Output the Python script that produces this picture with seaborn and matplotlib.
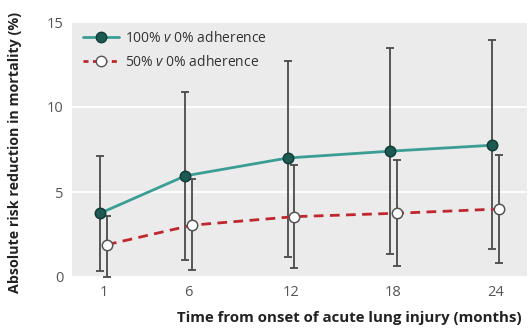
import numpy as np
import pandas as pd
import matplotlib
matplotlib.use("Agg")
import matplotlib.pyplot as plt
import seaborn as sns
from matplotlib.lines import Line2D

months = [1, 6, 12, 18, 24]

full_mean  = [3.75, 5.95, 7.0, 7.4, 7.75]
full_lower = [0.35, 1.0, 1.2, 1.35, 1.65]
full_upper = [7.1, 10.9, 12.7, 13.45, 13.95]

half_mean  = [1.9, 3.05, 3.55, 3.75, 4.0]
half_lower = [0.0, 0.4, 0.55, 0.65, 0.85]
half_upper = [3.6, 5.75, 6.6, 6.9, 7.2]

labels = [r"100% $\mathit{v}$ 0% adherence", r"50% $\mathit{v}$ 0% adherence"]

TEAL = "#3a9e95"
TEAL_DARK = "#1d5a53"
RED = "#c0262d"
BAR = "#4a4a4a"
TEXT = "#333333"
DODGE = 0.2

sns.set_style("white")
plt.rcParams["font.family"] = ["Open Sans", "DejaVu Sans"]
plt.rcParams["mathtext.fontset"] = "custom"
plt.rcParams["mathtext.it"] = "Open Sans:italic"
plt.rcParams["mathtext.rm"] = "Open Sans"

df = pd.DataFrame({
    "month": months * 2,
    "mean": full_mean + half_mean,
    "lower": full_lower + half_lower,
    "upper": full_upper + half_upper,
    "series": [labels[0]] * 5 + [labels[1]] * 5,
})
df["x"] = df["month"] + np.where(df["series"] == labels[0], -DODGE, DODGE)

fig = plt.figure(figsize=(5.28, 3.28), dpi=100)
ax = fig.add_axes([72 / 528, 1 - 277 / 328, 455 / 528, 255 / 328])
ax.set_facecolor("#ebebeb")

for lab in labels:
    d = df[df["series"] == lab]
    ax.errorbar(d["x"], d["mean"],
                yerr=[d["mean"] - d["lower"], d["upper"] - d["mean"]],
                fmt="none", ecolor=BAR, elinewidth=1.3, capsize=3,
                capthick=1.3, zorder=2, clip_on=False)

sns.lineplot(data=df, x="x", y="mean", hue="series", style="series",
             palette={labels[0]: TEAL, labels[1]: RED},
             dashes={labels[0]: "", labels[1]: (3.5, 2.3)},
             markers={labels[0]: "o", labels[1]: "o"},
             linewidth=2, markersize=7.5, legend=False, ax=ax, zorder=3)

# marker styling: dark teal filled vs open white
for line, lab in zip(ax.get_lines()[-2:], labels):
    if lab == labels[0]:
        line.set_markerfacecolor(TEAL_DARK)
        line.set_markeredgecolor("#123c37")
    else:
        line.set_markerfacecolor("white")
        line.set_markeredgecolor("#555555")
    line.set_markeredgewidth(1.1)
    line.set_clip_on(False)

ax.set_xlim(-0.85, 25.85)
ax.set_ylim(0, 15)
ax.set_xticks(months)
ax.set_yticks([0, 5, 10, 15])
ax.yaxis.grid(True, color="white", linewidth=1.3)
ax.xaxis.grid(False)
ax.set_axisbelow(True)
for s in ax.spines.values():
    s.set_visible(False)
ax.tick_params(axis="both", length=0, labelsize=10.5, labelcolor="#555555")
ax.tick_params(axis="y", pad=6)
ax.tick_params(axis="x", pad=6)
ax.set_xlabel("")
ax.set_ylabel("")

handles = [
    Line2D([], [], color=TEAL, lw=2, marker="o", markersize=7.5,
           markerfacecolor=TEAL_DARK, markeredgecolor="#123c37"),
    Line2D([], [], color=RED, lw=2, ls=(0, (1.8, 1.6)), marker="o", markersize=7.5,
           markerfacecolor="white", markeredgecolor="#555555"),
]
ax.legend(handles, labels, loc="upper left", bbox_to_anchor=(0.0, 1.01),
          frameon=False, fontsize=10, handlelength=2.6, handletextpad=0.4,
          labelspacing=0.65, borderaxespad=0.4, labelcolor=TEXT)

fig.text(15 / 528, 1 - 152 / 328, "Absolute risk reduction in mortality (%)",
         rotation=90, ha="center", va="center", fontsize=10.3,
         fontweight="bold", color="#222222")
fig.text(522 / 528, 1 - 318 / 328, "Time from onset of acute lung injury (months)",
         ha="right", va="center", fontsize=10.8, fontweight="bold", color="#222222")

fig.savefig("out.png", dpi=100)
